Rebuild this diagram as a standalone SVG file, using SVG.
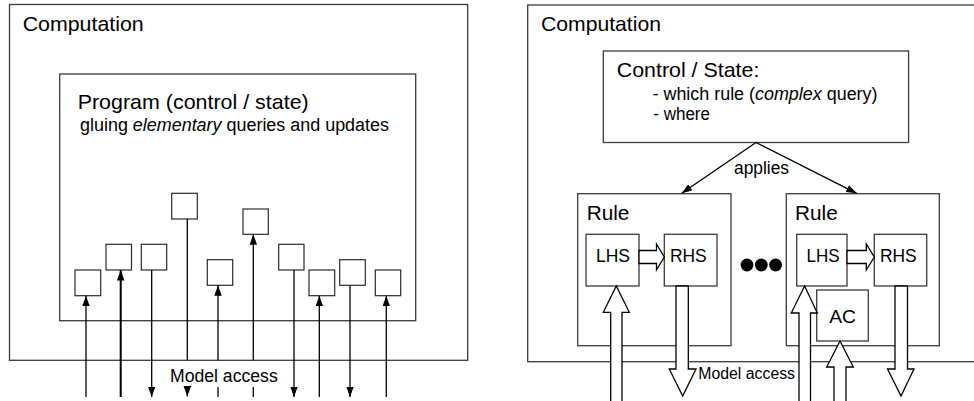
<svg xmlns="http://www.w3.org/2000/svg" width="974" height="401" viewBox="0 0 974 401">
<style>
  text { font-family: "Liberation Sans", Arial, sans-serif; fill: #000; }
  .box { fill: #fff; stroke: #3a3a3a; stroke-width: 1.3; }
  .frame { fill: none; stroke: #3a3a3a; stroke-width: 1.3; }
  .sq { fill: #fff; stroke: #2a2a2a; stroke-width: 1.2; }
  .ln { fill: none; stroke: #000; stroke-width: 1.3; }
  .blk { fill: #fff; stroke: #000; stroke-width: 1.3; stroke-linejoin: miter; }
  .dot { fill: #000; }
  .t21 { font-size: 21px; }
  .t20 { font-size: 20.5px; }
  .t18 { font-size: 18px; }
  .t17 { font-size: 17.5px; }
  .t16 { font-size: 16px; }
</style>
<defs>
  <marker id="ah" markerUnits="userSpaceOnUse" markerWidth="11" markerHeight="8" refX="10.5" refY="3.75" orient="auto">
    <path d="M0,0 L10.5,3.75 L0,7.5 z" fill="#000"/>
  </marker>
</defs>

<!-- LEFT HALF -->
<g id="computation-left">
  <rect class="frame" x="9.5" y="4.5" width="458.2" height="355.8"/>
  <text class="t21" x="22.7" y="30.5" textLength="121" lengthAdjust="spacingAndGlyphs">Computation</text>
</g>
<g id="program">
  <rect class="box" x="59.7" y="74" width="356" height="246.7"/>
  <text class="t21" x="77.7" y="109.3" textLength="231" lengthAdjust="spacingAndGlyphs">Program (control / state)</text>
  <text class="t18" x="80" y="130.5" textLength="309" lengthAdjust="spacingAndGlyphs">gluing <tspan font-style="italic">elementary</tspan> queries and updates</text>
</g>
<g id="op1"><rect class="sq" x="75" y="270" width="25.7" height="25.7"/></g>
<g id="op2"><rect class="sq" x="106" y="244.3" width="25.5" height="25.7"/></g>
<g id="op3"><rect class="sq" x="141.3" y="244.3" width="25.4" height="25.7"/></g>
<g id="op4"><rect class="sq" x="171.7" y="193.3" width="25.6" height="25.7"/></g>
<g id="op5"><rect class="sq" x="207.3" y="259.7" width="25.4" height="25.6"/></g>
<g id="op6"><rect class="sq" x="243" y="209" width="25.3" height="25.3"/></g>
<g id="op7"><rect class="sq" x="278.7" y="244.3" width="25.3" height="25.7"/></g>
<g id="op8"><rect class="sq" x="309" y="270" width="25.7" height="25.7"/></g>
<g id="op9"><rect class="sq" x="339.7" y="259.7" width="25.6" height="25.6"/></g>
<g id="op10"><rect class="sq" x="375.3" y="270" width="25.4" height="25.7"/></g>

<!-- RIGHT HALF -->
<g id="computation-right">
  <rect class="frame" x="527.7" y="5" width="460" height="356.7"/>
  <text class="t21" x="541" y="30.7" textLength="120" lengthAdjust="spacingAndGlyphs">Computation</text>
</g>
<g id="control-state">
  <rect class="box" x="603.3" y="51" width="305.3" height="91.5"/>
  <text class="t21" x="616.7" y="77" textLength="142.7" lengthAdjust="spacingAndGlyphs">Control / State:</text>
  <text class="t18" x="652.5" y="99.5" textLength="225" lengthAdjust="spacingAndGlyphs">- which rule (<tspan font-style="italic">complex</tspan> query)</text>
  <text class="t18" x="653.3" y="119.5" textLength="56.7" lengthAdjust="spacingAndGlyphs">- where</text>
</g>
<g id="rule1">
  <rect class="box" x="577.7" y="193.7" width="153.3" height="152"/>
  <text class="t20" x="586.7" y="220" textLength="42.7" lengthAdjust="spacingAndGlyphs">Rule</text>
</g>
<g id="lhs1">
  <rect class="box" x="586" y="234.3" width="53" height="51.7"/>
  <text class="t17" x="596" y="262" textLength="34" lengthAdjust="spacingAndGlyphs">LHS</text>
</g>
<g id="rhs1">
  <rect class="box" x="664.3" y="234.3" width="52.7" height="51.7"/>
  <text class="t17" x="670" y="262" textLength="36.7" lengthAdjust="spacingAndGlyphs">RHS</text>
</g>
<g id="ellipsis">
  <circle class="dot" cx="747" cy="265" r="6.4"/>
  <circle class="dot" cx="761.3" cy="265" r="6.4"/>
  <circle class="dot" cx="775.6" cy="265" r="6.4"/>
</g>
<g id="rule2">
  <rect class="box" x="786.3" y="193.7" width="153" height="152"/>
  <text class="t20" x="795" y="220" textLength="42.7" lengthAdjust="spacingAndGlyphs">Rule</text>
</g>
<g id="lhs2">
  <rect class="box" x="796.7" y="234.3" width="50.3" height="51.7"/>
  <text class="t17" x="806.5" y="262" textLength="33" lengthAdjust="spacingAndGlyphs">LHS</text>
</g>
<g id="rhs2">
  <rect class="box" x="874.3" y="234.3" width="52.4" height="51.7"/>
  <text class="t17" x="880" y="262" textLength="36.7" lengthAdjust="spacingAndGlyphs">RHS</text>
</g>
<g id="ac">
  <rect class="box" x="816.7" y="290" width="51.6" height="51"/>
  <text class="t17" x="829.2" y="323" textLength="26.7" lengthAdjust="spacingAndGlyphs">AC</text>
</g>

<g id="connectors">
  <!-- left: elementary accesses -->
  <line class="ln" x1="86" y1="397" x2="86" y2="295.7" marker-end="url(#ah)"/>
  <line class="ln" x1="120.7" y1="397" x2="120.7" y2="270" style="stroke-width:2" marker-end="url(#ah)"/>
  <line class="ln" x1="151.7" y1="270" x2="151.7" y2="397" marker-end="url(#ah)"/>
  <line class="ln" x1="187.3" y1="219" x2="187.3" y2="360.3"/>
  <line class="ln" x1="187.3" y1="386" x2="187.3" y2="396.5" marker-end="url(#ah)"/>
  <line class="ln" x1="218" y1="360.3" x2="218" y2="285.3" marker-end="url(#ah)"/>
  <line class="ln" x1="218" y1="387" x2="218" y2="397"/>
  <line class="ln" x1="253.3" y1="360.3" x2="253.3" y2="234.3" marker-end="url(#ah)"/>
  <line class="ln" x1="253.3" y1="387" x2="253.3" y2="397"/>
  <line class="ln" x1="294" y1="270" x2="294" y2="397" marker-end="url(#ah)"/>
  <line class="ln" x1="319.3" y1="397" x2="319.3" y2="295.7" marker-end="url(#ah)"/>
  <line class="ln" x1="350" y1="285.3" x2="350" y2="397" marker-end="url(#ah)"/>
  <line class="ln" x1="386.3" y1="397" x2="386.3" y2="295.7" marker-end="url(#ah)"/>
  <text class="t17" x="170" y="381.7" textLength="107.7" lengthAdjust="spacingAndGlyphs">Model access</text>

  <!-- right: applies -->
  <line class="ln" x1="756" y1="142.5" x2="681.7" y2="193.3" marker-end="url(#ah)"/>
  <line class="ln" x1="756" y1="142.5" x2="856.7" y2="193.3" marker-end="url(#ah)"/>
  <text class="t17" x="734" y="174.3" textLength="55" lengthAdjust="spacingAndGlyphs">applies</text>

  <!-- block arrows LHS => RHS -->
  <polygon class="blk" points="639,250.5 656.5,250.5 656.5,244 664.3,257 656.5,270 656.5,263.5 639,263.5"/>
  <polygon class="blk" points="847,250.5 866.3,250.5 866.3,244 874.3,257 866.3,270 866.3,263.5 847,263.5"/>

  <!-- block arrows model access -->
  <polygon class="blk" points="610.7,405 610.7,312.3 603.3,312.3 616.3,286 629.3,312.3 622,312.3 622,405"/>
  <polygon class="blk" points="676,286 676,369 669.3,369 682.7,396 696,369 688.3,369 688.3,286"/>
  <polygon class="blk" points="799,405 799,313 791.3,313 804.6,286 817.3,313 810.5,313 810.5,405"/>
  <polygon class="blk" points="834,405 834,367 826.7,367 840,341 853.3,367 846,367 846,405"/>
  <polygon class="blk" points="895,286 895,369 887.5,369 901,396 914,369 907.5,369 907.5,286"/>
  <text class="t16" x="698.3" y="379.3" textLength="96.7" lengthAdjust="spacingAndGlyphs">Model access</text>
</g>
</svg>
